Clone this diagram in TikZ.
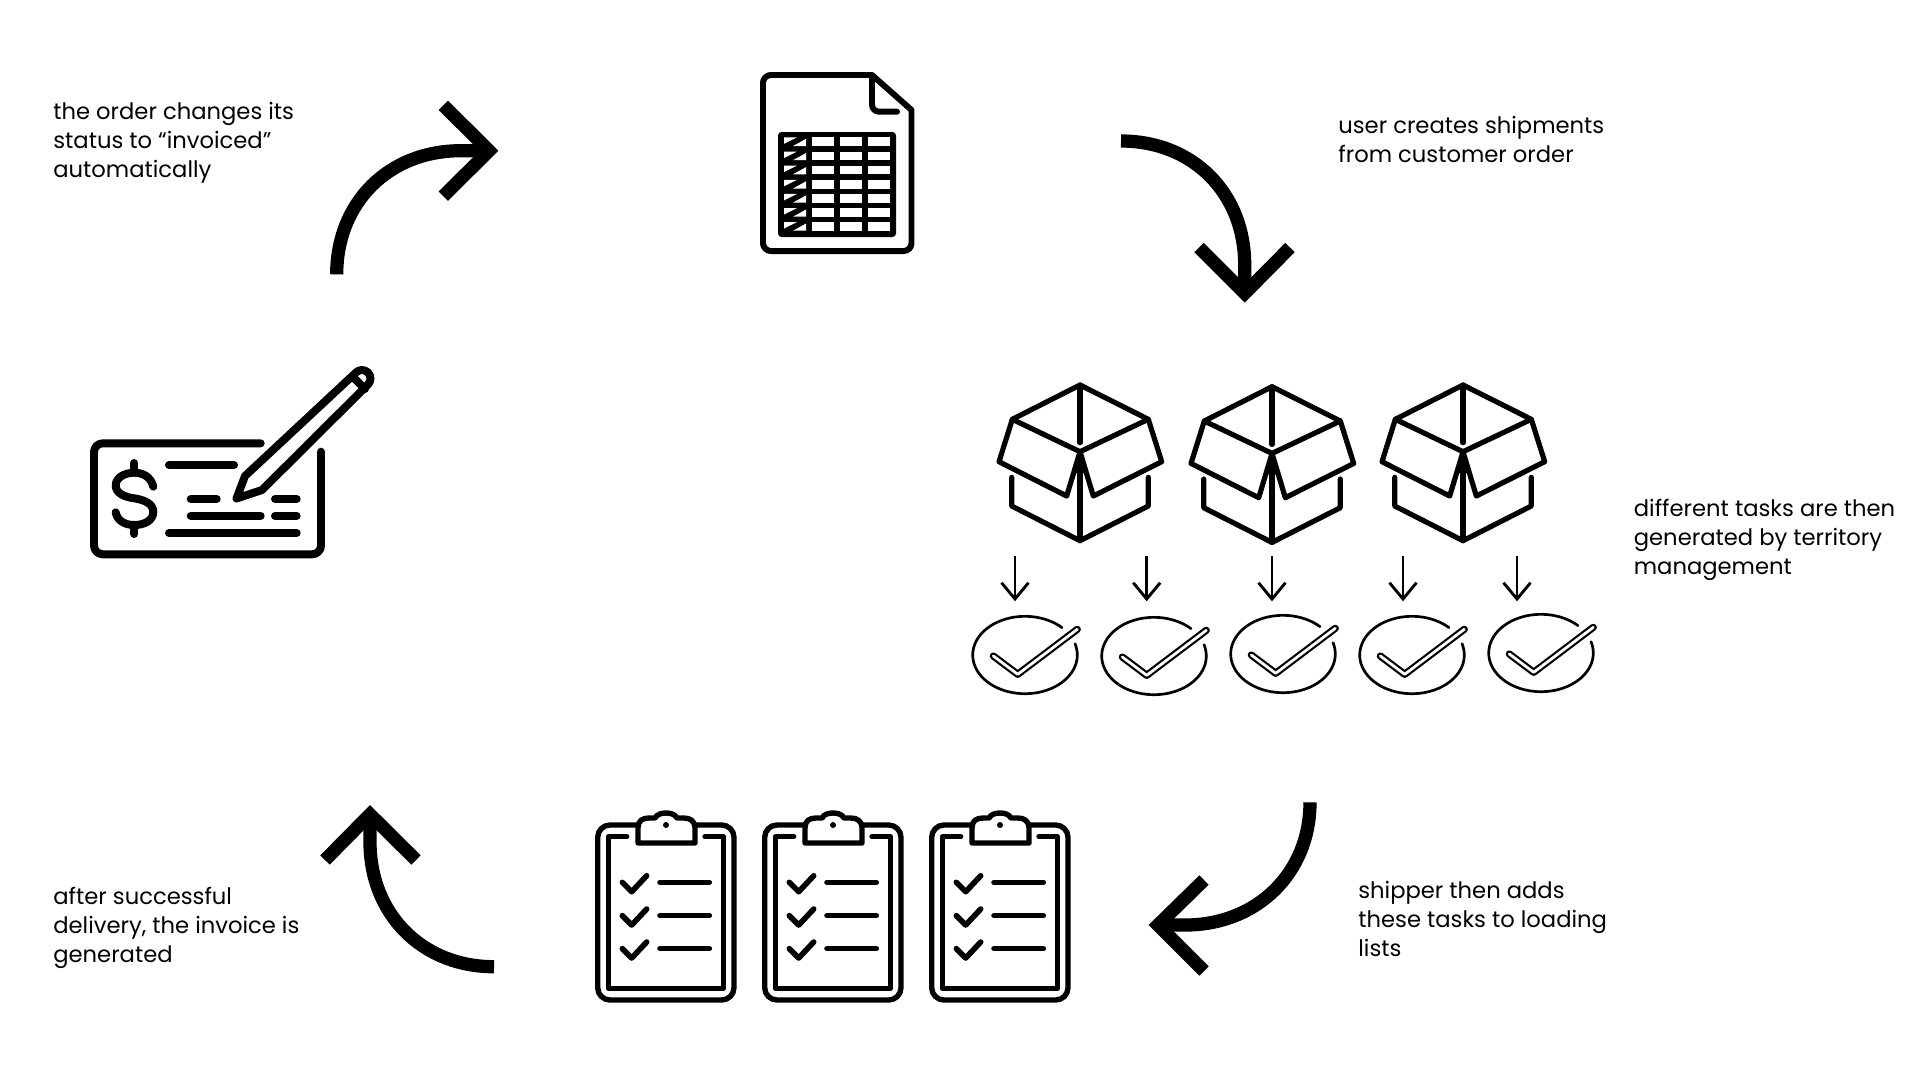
\documentclass[tikz,border=0pt]{standalone}
\usepackage{fontspec}
\setmainfont{Poppins}
\tikzset{
  lw/.style={line width=#1*0.5669pt},
  icon/.style={draw=black,lw=#1,line cap=round,line join=round},
  bigarrow/.style={draw=black,lw=13.3,line cap=butt,line join=miter,miter limit=10},
  caption/.style={anchor=base west,inner sep=0pt,align=left,text=black,
    font=\fontsize{12.9}{16.45}\selectfont},
}
\begin{document}
\begin{tikzpicture}[x=0.02cm,y=-0.02cm]
\useasboundingbox[fill=white] (0,0) rectangle (1920,1080);

% text (the base anchor of a multi-line node is its last line)
\node[caption] (t1) at (53,177) {the order changes its\\status to “invoiced”\\automatically};
\node[caption] (t2) at (1338,162.5) {user creates shipments\\from customer order};
\node[caption] (t3) at (1633.5,574) {different tasks are then\\generated by territory\\management};
\node[caption] (t4) at (1358,956) {shipper then adds\\these tasks to loading\\lists};
\node[caption] (t5) at (53,962) {after successful\\delivery, the invoice is\\generated};

% big arrows
\path[bigarrow] (336.7,274.3) .. controls (336.7,202.6) and (388.7,150.7) .. (460.7,150.7) -- (485,150.7);
\path[bigarrow] (443.3,105.3) -- (489,150.7) -- (443.3,196.2);
\path[bigarrow] (1121,141) .. controls (1193,141) and (1244.7,193) .. (1244.7,265) -- (1244.7,285);
\path[bigarrow] (1199,247.5) -- (1244.7,293.3) -- (1290,247.5);
\path[bigarrow] (1310,802.3) .. controls (1310,873) and (1257,925) .. (1185,925) -- (1165,925);
\path[bigarrow] (1204,880) -- (1158,925) -- (1204,971);
\path[bigarrow] (494,966.7) .. controls (422,966.7) and (370,914) .. (370,842) -- (370,822);
\path[bigarrow] (325,860) -- (370,814.4) -- (416,860);

% document icon
\draw[icon=6] (872,75) [rounded corners=4.5pt] -- (763,75) -- (763,251) -- (911.5,251) [sharp corners] -- (911.5,110) -- cycle;
\draw[icon=6,rounded corners=4pt] (872,77) -- (872,111.7) -- (897,111.7);
\fill[black,rounded corners=2pt] (778,132) rectangle (896,237);
\foreach \ya/\yb in {137.3/146,151.5/160.2,165.6/174.3,179.8/188.5,193.9/202.6,208/216.7,222/230.7}{
  \foreach \xa/\xb in {812/834,840/862,868/890}{
    \fill[white] (\xa,\ya) rectangle (\xb,\yb);
  }
  \fill[white] (784,\ya) -- (797,\ya) -- (784,\ya+6.5) -- cycle;
  \fill[white] (806,\ya+1.5) -- (806,\yb) -- (793,\yb) -- cycle;
}

% boxes
\foreach \dx/\dy in {0/0,192/1.7,383/0}{
\begin{scope}[shift={(\dx,\dy)},icon=5.2]
  \draw (1080,385) -- (1012.3,419.3) -- (1080,451.7) -- (1148.3,419.3) -- cycle;
  \draw (1080,385) -- (1080,442.7);
  \draw (1012.3,419.3) -- (999,461.7) -- (1066.7,496) -- (1080,451.7) -- (1093.3,496) -- (1161.7,461.7) -- (1148.3,419.3);
  \fill[black] (1080,451.7) -- (1074,473) -- (1086,473) -- cycle;
  \draw (1080,451.7) -- (1080,540.7);
  \draw (1011.7,477.3) -- (1011.7,506) -- (1080,540.7) -- (1148.3,506) -- (1148.3,477.3);
\end{scope}
}

% small arrows
\foreach \x in {1015,1146.7,1272,1403,1517}{
  \coordinate (a) at (\x,556);
  \coordinate (b) at (\x,599);
  \draw[lw=2.9,line join=miter] (a) -- (b);
  \draw[lw=2.9,line join=miter] (\x-13.5,582.7) -- (b) -- (\x+13.5,582.7);
}

% checks
\foreach \cx/\cy in {1025/655,1154/656,1283/654,1412/655,1541/653}{
\begin{scope}[shift={(\cx,\cy)}]
  \draw[lw=2.7,line cap=round] plot[domain=-17:315,samples=70,smooth] ({52.3*cos(\x)},{38.7*sin(\x)});
  \draw[lw=2.2,double=white,double distance=2.8*0.5669pt,line join=round,line cap=round]
    (-31.7,1) -- (-7.3,19.3) -- (52.3,-25.7);
\end{scope}
}

% clipboards
\foreach \dx in {0,167,334}{
\begin{scope}[shift={(\dx,0)}]
  \draw[icon=5.4,rounded corners=7pt] (597.7,825) rectangle (734,1000);
  \draw[icon=5.4] (626.7,836.7) -- (608.3,836.7) -- (608.3,988.3) -- (723.3,988.3) -- (723.3,836.7) -- (705,836.7);
  \draw[icon=5.4,fill=white] (638,843) -- (638,828) .. controls (638,821) and (642,818) .. (649,818) -- (655,818)
    .. controls (657,814) and (662,813) .. (666,813) .. controls (670,813) and (675,814) .. (677,818)
    -- (684,818) .. controls (690,818) and (695,821) .. (695,828) -- (695,843) -- cycle;
  \fill[black] (666,825) circle[radius=3];
  \foreach \r in {0,33.3,66.3}{
    \draw[icon=5.6] (622.3,882.3+\r) -- (631.7,891.7+\r) -- (646.7,875.7+\r);
    \draw[icon=5.6] (660,882.3+\r) -- (709.3,882.3+\r);
  }
\end{scope}
}

% cheque
\draw[icon=8,rounded corners=5pt] (260.7,443.3) -- (94,443.3) -- (94,554.3) -- (321,554.3) -- (321,451.7);
\draw[icon=8] (169,465) -- (234,465);
\draw[icon=8] (190.7,499) -- (216.7,499);
\draw[icon=8] (275,499) -- (296.7,499);
\draw[icon=8] (190.7,515.7) -- (260.7,515.7);
\draw[icon=8] (275,515.7) -- (296.7,515.7);
\draw[icon=8] (169,533) -- (296.7,533);
\draw[icon=8] (153.3,486.7) .. controls (151,477) and (143,472.7) .. (134.3,472.7)
  .. controls (124,472.7) and (115.7,478) .. (115.7,485.5)
  .. controls (115.7,493) and (124,497) .. (134.3,498.3)
  .. controls (145,500) and (153.3,504) .. (153.3,512)
  .. controls (153.3,520) and (145,525) .. (134.3,525)
  .. controls (124,525) and (117,520) .. (115.7,512.3);
\draw[icon=8] (134.3,463) -- (134.3,471);
\draw[icon=8] (134.3,526) -- (134.3,534);
% pencil
\draw[icon=8] (236.5,498.5) -- (245,476) -- (356,372.5)
  .. controls (359.3,369.2) and (364.7,369.2) .. (368,372.5)
  .. controls (371.3,375.8) and (371.3,381.2) .. (368,384.5)
  -- (262,490) -- cycle;
\draw[icon=8] (353,377) -- (365,389);
\end{tikzpicture}
\end{document}
